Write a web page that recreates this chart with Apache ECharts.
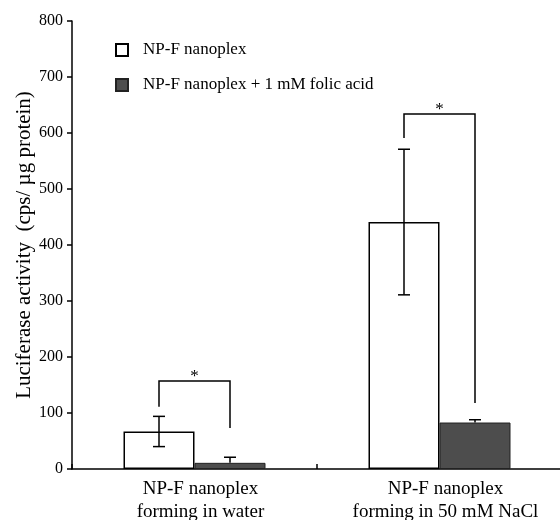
<!DOCTYPE html>
<html>
<head>
<meta charset="utf-8">
<script src="https://cdn.jsdelivr.net/npm/echarts@6/dist/echarts.min.js"></script>
<style>html,body{margin:0;padding:0;background:#fff}#c{width:560px;height:520px}</style>
</head>
<body>
<div id="c"></div>
<script>
// ---- data ----
var categories = ['NP-F nanoplex\nforming in water', 'NP-F nanoplex\nforming in 50 mM NaCl'];
var seriesNames = ['NP-F nanoplex', 'NP-F nanoplex + 1 mM folic acid'];
var npfValues = [67, 441];
var npfErrors = [27, 130];          // symmetric SD
var folicValues = [11, 83];
var folicErrors = [10, 5];          // upper SD only
var yTicks = [0, 100, 200, 300, 400, 500, 600, 700, 800];
// significance brackets: [category, left-leg bottom, bracket top, right-leg bottom]
var brackets = [[0, 111, 157, 73], [1, 591, 634, 118]];

var FONT = '"Liberation Serif", "DejaVu Serif", serif';
var BAR_W = 71;

var chart = echarts.init(document.getElementById('c'), null, {renderer: 'canvas'});

function errRender(offset, lowerToo) {
  return function (params, api) {
    var idx = api.value(0), v = api.value(1), e = api.value(2);
    var top = api.coord([idx, v + e]);
    var bot = api.coord([idx, lowerToo ? v - e : v]);
    var x = top[0] + offset;
    var cap = 6;
    var st = {stroke: '#000', lineWidth: 1.5};
    var children = [
      {type: 'line', shape: {x1: x, y1: top[1], x2: x, y2: bot[1]}, style: st},
      {type: 'line', shape: {x1: x - cap, y1: top[1], x2: x + cap, y2: top[1]}, style: st}
    ];
    if (lowerToo) children.push({type: 'line', shape: {x1: x - cap, y1: bot[1], x2: x + cap, y2: bot[1]}, style: st});
    return {type: 'group', children: children};
  };
}

var option = {
  animation: false,
  backgroundColor: '#fff',
  textStyle: {fontFamily: FONT, color: '#000'},
  grid: {left: 72, top: 21, width: 490, height: 448, containLabel: false, outerBoundsMode: 'none'},
  legend: {
    orient: 'vertical', left: 115, top: 40, padding: 0, itemGap: 15,
    itemWidth: 12, itemHeight: 12, icon: 'rect',
    data: seriesNames,
    textStyle: {fontFamily: FONT, fontSize: 17, color: '#000', lineHeight: 20, padding: [0, 0, 0, 10]}
  },
  xAxis: {
    type: 'category', data: categories,
    axisLine: {lineStyle: {color: '#000', width: 1.5}},
    axisTick: {show: true, inside: true, length: 5, lineStyle: {color: '#000', width: 1.5}},
    axisLabel: {fontFamily: FONT, fontSize: 19, color: '#000', lineHeight: 23, margin: 9, interval: 0,
      padding: [0, 0, 0, 12]}
  },
  yAxis: {
    type: 'value', min: yTicks[0], max: yTicks[yTicks.length - 1], interval: yTicks[1] - yTicks[0],
    name: 'Luciferase activity  (cps/ \u00b5g protein)',
    nameLocation: 'middle', nameGap: 37, nameMoveOverlap: false,
    nameTextStyle: {fontFamily: FONT, fontSize: 21, color: '#000'},
    axisLine: {show: true, lineStyle: {color: '#000', width: 1.5}},
    axisTick: {show: true, length: 5, lineStyle: {color: '#000', width: 1.5}},
    axisLabel: {fontFamily: FONT, fontSize: 16, color: '#000', margin: 9},
    splitLine: {show: false}
  },
  series: [
    {
      name: seriesNames[0], type: 'bar', data: npfValues, barWidth: BAR_W, barGap: '0%',
      itemStyle: {color: '#fff', borderColor: '#000', borderWidth: 1.5}
    },
    {
      name: seriesNames[1], type: 'bar', data: folicValues, barWidth: BAR_W, barGap: '0%',
      itemStyle: {color: '#4d4d4d', borderColor: '#222', borderWidth: 1}
    },
    {
      type: 'custom', name: 'err1', z: 5,
      data: npfValues.map(function (v, i) { return [i, v, npfErrors[i]]; }),
      renderItem: errRender(-BAR_W / 2, true)
    },
    {
      type: 'custom', name: 'err2', z: 5,
      data: folicValues.map(function (v, i) { return [i, v, folicErrors[i]]; }),
      renderItem: errRender(BAR_W / 2, false)
    },
    {
      type: 'custom', name: 'sig', z: 5,
      data: brackets,
      renderItem: function (params, api) {
        var idx = api.value(0);
        var pl = api.coord([idx, api.value(1)]);
        var pt = api.coord([idx, api.value(2)]);
        var pr = api.coord([idx, api.value(3)]);
        var xl = pt[0] - BAR_W / 2, xr = pt[0] + BAR_W / 2;
        var st = {stroke: '#000', lineWidth: 1.5, fill: null};
        return {type: 'group', children: [
          {type: 'polyline', shape: {points: [[xl, pl[1]], [xl, pt[1]], [xr, pt[1]], [xr, pr[1]]]}, style: st},
          {type: 'text', style: {text: '*', x: pt[0], y: pt[1] + 4, align: 'center', verticalAlign: 'bottom',
            font: '17px ' + FONT, fill: '#000'}}
        ]};
      }
    }
  ]
};
chart.setOption(option);
</script>
</body>
</html>
